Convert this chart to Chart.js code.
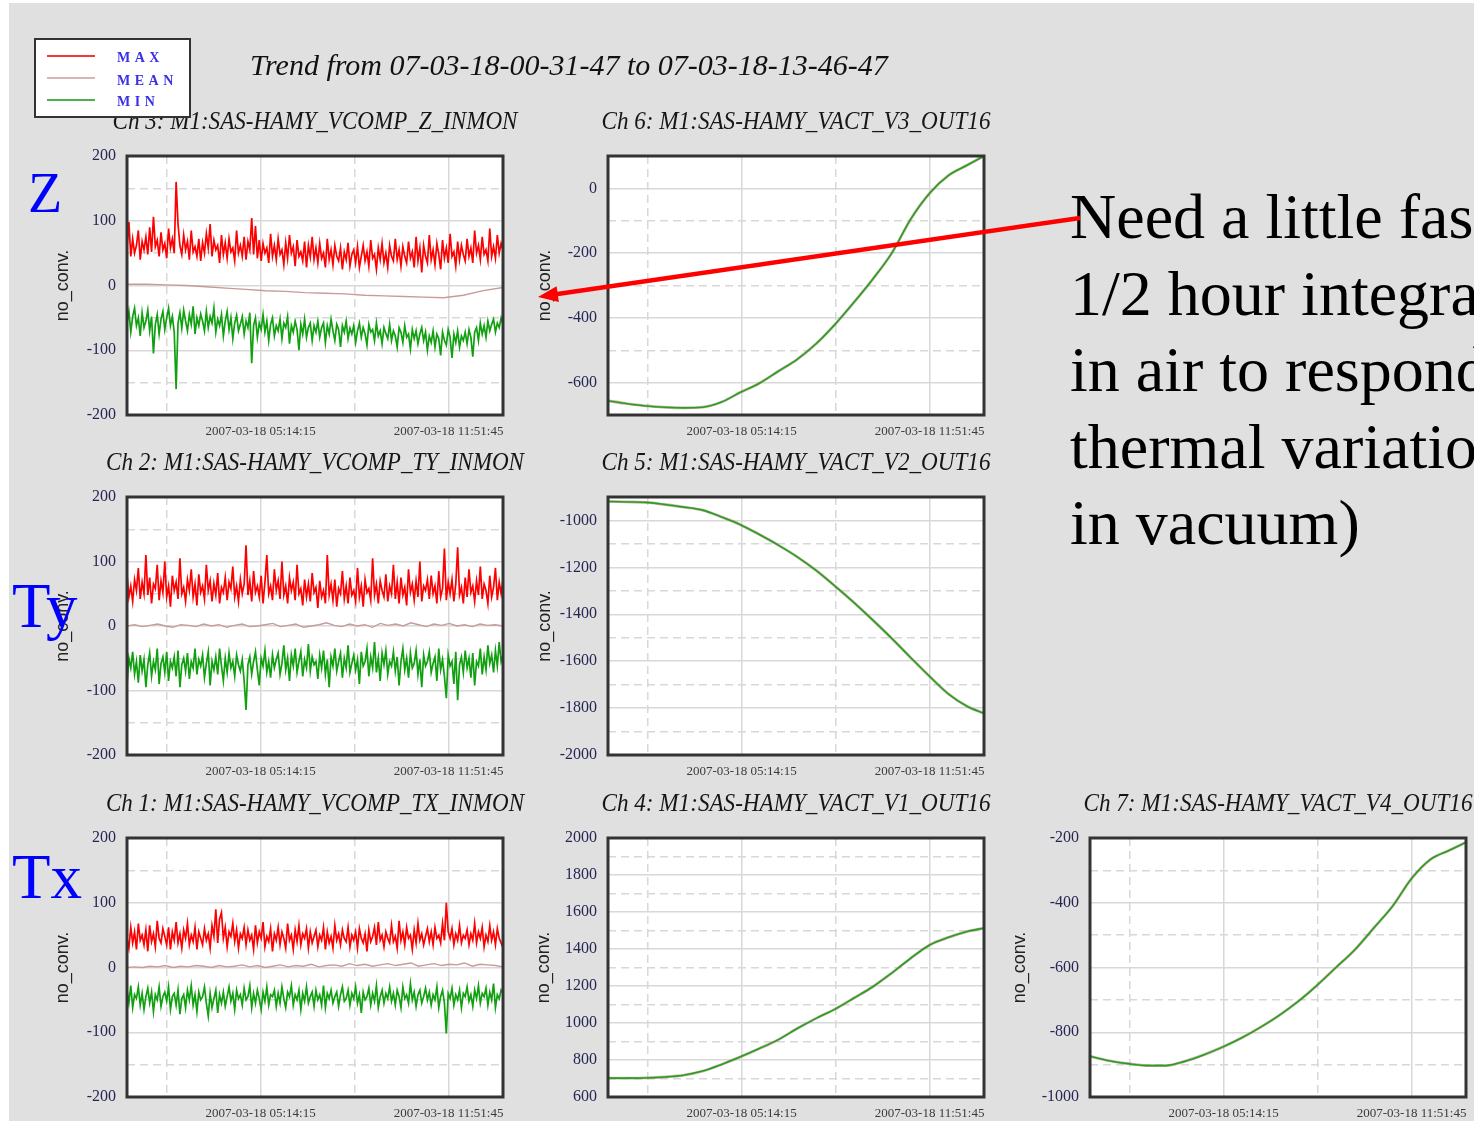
<!DOCTYPE html>
<html>
<head>
<meta charset="utf-8">
<title>Trend from 07-03-18-00-31-47 to 07-03-18-13-46-47</title>
<script src="https://cdn.jsdelivr.net/npm/chart.js@4.4.0/dist/chart.umd.min.js"></script>
<style>
  html, body { margin: 0; padding: 0; background: #fff; overflow: hidden; width: 1474px; height: 1121px; }
  #slide { position: absolute; left: 9px; top: 3px; width: 1465px; height: 1118px; background: #e0e0e0; }
  canvas.panel { position: absolute; }
  #overlay { position: absolute; left: 0; top: 0; z-index: 5; pointer-events: none; }
</style>
</head>
<body>
<div id="slide"></div>
<canvas class="panel" id="ch3"></canvas>
<canvas class="panel" id="ch6"></canvas>
<canvas class="panel" id="ch2"></canvas>
<canvas class="panel" id="ch5"></canvas>
<canvas class="panel" id="ch1"></canvas>
<canvas class="panel" id="ch4"></canvas>
<canvas class="panel" id="ch7"></canvas>

<svg id="overlay" width="1474" height="1121" xmlns="http://www.w3.org/2000/svg">
  <text x="250" y="75" font-family="'Liberation Serif','Times New Roman',serif" font-style="italic" font-size="30" fill="#111">Trend from 07-03-18-00-31-47 to 07-03-18-13-46-47</text>

  <!-- legend box -->
  <rect x="35" y="39" width="155" height="78" fill="#fff" stroke="#333" stroke-width="2"/>
  <line x1="47" y1="56" x2="95" y2="56" stroke="#f03a3a" stroke-width="2"/>
  <line x1="47" y1="78" x2="95" y2="78" stroke="#d8b4b4" stroke-width="2"/>
  <line x1="47" y1="100" x2="95" y2="100" stroke="#4cb04c" stroke-width="2"/>
  <g font-family="'Liberation Serif','Times New Roman',serif" font-size="14" font-weight="bold" fill="#3a30e6" letter-spacing="4.5">
    <text x="117" y="62">MAX</text>
    <text x="117" y="85">MEAN</text>
    <text x="117" y="106">MIN</text>
  </g>

  <!-- axis names on the slide -->
  <g font-family="'Liberation Serif','Times New Roman',serif" fill="#0000ff">
    <text x="28" y="212" font-size="56">Z</text>
    <text x="12" y="627" font-size="63">Ty</text>
    <text x="12" y="898" font-size="63">Tx</text>
  </g>

  <!-- note -->
  <g font-family="'Liberation Serif','Times New Roman',serif" font-size="64" fill="#000">
    <text x="1070" y="238">Need a little faster</text>
    <text x="1070" y="315">1/2 hour integration</text>
    <text x="1070" y="391">in air to respond</text>
    <text x="1070" y="468">thermal variations</text>
    <text x="1070" y="544">in vacuum)</text>
  </g>
  <line x1="1080" y1="218" x2="554" y2="294.5" stroke="#ff0000" stroke-width="4.5"/>
  <polygon points="538,297 556.6,286.2 558.9,302" fill="#ff0000"/>
</svg>

<script>
// time axis: minutes since 07-03-18 00:31:47, run ends at 13:46:47
const spanMinutes = 795;
const xTickMinutes = [83.72, 282.47, 481.22, 679.97];
const xTickLabels = ['', '2007-03-18 05:14:15', '', '2007-03-18 11:51:45'];

// Ch 3 (Z) - max / mean / min
const zMax = [
  58, 98, 45, 72, 50, 62, 85, 40, 68, 55, 75, 48, 90, 52, 106, 60, 70, 45, 82, 55,
  65, 42, 88, 58, 72, 50, 160, 95, 62, 48, 78, 55, 68, 40, 85, 52, 60, 45, 72, 38,
  66, 50, 80, 58, 95, 45, 70, 55, 62, 35, 78, 48, 66, 42, 72, 52, 58, 38, 85, 50,
  62, 45, 75, 40, 68, 55, 104, 48, 92, 42, 70, 38, 65, 50, 58, 35, 80, 45, 62, 40,
  72, 48, 55, 32, 66, 42, 78, 50, 60, 30, 70, 45, 52, 38, 68, 28, 62, 44, 75, 40,
  58, 35, 65, 42, 50, 28, 72, 40, 55, 32, 62, 45, 38, 58, 25, 52, 40, 66, 30, 48,
  55, 35, 60, 28, 45, 62, 38, 52, 30, 70, 42, 48, 25, 58, 40, 65, 35, 50, 28, 62,
  45, 38, 72, 40, 55, 30, 60, 45, 35, 68, 42, 52, 28, 75, 38, 58, 20, 62, 45, 35,
  78, 40, 55, 32, 65, 48, 25, 70, 42, 58, 35, 80, 45, 52, 30, 68, 40, 62, 48, 38,
  72, 45, 58, 35, 85, 50, 62, 40, 75, 48, 55, 38, 88, 45, 60, 42, 78, 50, 65, 55
];
const zMean = [2, 2, 1, 0, -2, -4, -6, -8, -9, -11, -12, -13, -15, -16, -17, -18, -19, -15, -8, -3];
const zMin = [
  -58, -40, -72, -48, -35, -62, -50, -78, -42, -65, -55, -38, -70, -48, -105, -60, -45, -75, -52, -40,
  -68, -50, -35, -62, -48, -72, -160, -58, -42, -66, -38, -55, -70, -45, -60, -32, -75, -50, -62, -44,
  -55, -70, -40, -65, -48, -58, -35, -72, -52, -62, -45, -78, -55, -40, -68, -50, -82, -58, -46, -70,
  -60, -48, -75, -55, -65, -42, -120, -62, -50, -80, -58, -68, -45, -72, -55, -85, -60, -50, -78, -62,
  -70, -52, -82, -58, -65, -48, -90, -62, -72, -55, -68, -100, -60, -75, -52, -80, -65, -58, -85, -62,
  -72, -55, -80, -65, -58, -88, -62, -75, -52, -70, -85, -60, -68, -95, -62, -72, -55, -82, -66, -75,
  -62, -88, -70, -58, -80, -65, -75, -92, -60, -72, -68, -85, -58, -78, -70, -90, -65, -74, -82, -60,
  -85, -70, -78, -95, -65, -72, -88, -62, -80, -75, -98, -68, -82, -70, -90, -75, -65, -85, -72, -100,
  -78, -88, -70, -95, -75, -82, -108, -72, -85, -92, -68, -80, -112, -75, -88, -70, -95, -78, -85, -72,
  -90, -68, -80, -110, -72, -65, -85, -58, -75, -62, -80, -55, -70, -60, -52, -72, -58, -65, -50, -60
];

// Ch 2 (Ty)
const tyMax = [
  80, 45, 62, 38, 72, 55, 90, 42, 68, 50, 110, 48, 75, 35, 65, 58, 95, 40, 70, 52,
  100, 45, 62, 30, 78, 55, 68, 42, 105, 50, 60, 38, 72, 55, 88, 45, 65, 32, 80, 52,
  62, 42, 95, 55, 70, 38, 66, 48, 82, 35, 60, 52, 75, 40, 68, 58, 92, 45, 62, 38,
  72, 50, 65, 125, 48, 70, 38, 85, 52, 62, 45, 78, 35, 68, 110, 50, 62, 40, 88, 55,
  70, 42, 100, 48, 62, 35, 75, 55, 68, 40, 95, 50, 58, 32, 72, 45, 65, 38, 82, 52,
  60, 28, 70, 45, 55, 35, 110, 48, 65, 40, 72, 30, 58, 50, 85, 42, 62, 35, 75, 48,
  55, 38, 90, 45, 62, 30, 72, 52, 58, 40, 105, 48, 65, 35, 70, 55, 45, 80, 38, 62,
  50, 95, 42, 68, 35, 75, 48, 60, 32, 88, 52, 65, 40, 70, 45, 100, 38, 62, 55, 72,
  42, 78, 50, 62, 35, 85, 45, 58, 120, 40, 68, 50, 72, 38, 65, 122, 48, 60, 35, 75,
  45, 88, 52, 62, 38, 70, 48, 92, 42, 65, 55, 35, 78, 45, 60, 90, 40, 68, 50, 72
];
const tyMean = [
  0, 2, -1, 1, 3, 0, -2, 2, 1, -1, 3, 0, 2, -2, 1, 3, -1, 0, 2, 4, -1, 1, 3, -2, 0,
  2, 5, 1, -1, 3, 0, 2, -2, 4, 1, 3, 0, 5, 2, -1, 3, 1, 4, 0, 2, -1, 3, 1, 2, 0
];
const tyMin = [
  -92, -50, -65, -40, -75, -55, -88, -45, -70, -52, -95, -60, -42, -78, -55, -68, -35, -90, -58, -48,
  -72, -40, -85, -55, -65, -48, -78, -38, -95, -60, -50, -70, -42, -82, -55, -65, -35, -75, -52, -62,
  -45, -80, -58, -40, -92, -55, -68, -48, -75, -35, -62, -85, -50, -72, -42, -65, -55, -78, -45, -60,
  -70, -52, -85, -130, -60, -48, -75, -55, -40, -68, -92, -50, -62, -38, -72, -55, -80, -45, -65, -52,
  -42, -75, -58, -30, -68, -50, -85, -45, -62, -35, -72, -55, -40, -78, -52, -65, -28, -70, -48, -60,
  -55, -82, -45, -65, -38, -75, -52, -95, -48, -62, -35, -70, -55, -42, -80, -50, -65, -30, -72, -58,
  -45, -68, -52, -90, -40, -62, -55, -35, -78, -48, -65, -25, -72, -50, -85, -42, -60, -38, -75, -55,
  -62, -40, -70, -48, -92, -55, -35, -68, -50, -80, -42, -65, -58, -38, -75, -52, -95, -45, -62, -55,
  -40, -72, -58, -48, -85, -35, -68, -52, -78, -112, -45, -62, -55, -90, -40, -115, -60, -48, -72, -38,
  -65, -50, -80, -42, -92, -55, -62, -35, -75, -48, -68, -30, -58, -45, -72, -38, -62, -25, -55, -45
];

// Ch 1 (Tx)
const txMax = [
  45, 30, 62, 38, 55, 28, 68, 42, 50, 35, 58, 25, 65, 40, 52, 32, 72, 45, 38, 60,
  48, 35, 62, 28, 55, 42, 70, 38, 52, 30, 58, 45, 68, 35, 50, 40, 62, 28, 55, 45,
  35, 60, 42, 52, 30, 65, 48, 90, 38, 75, 85, 45, 62, 32, 55, 48, 68, 40, 58, 30,
  52, 45, 62, 35, 58, 42, 50, 28, 65, 38, 55, 45, 70, 32, 48, 40, 60, 25, 52, 42,
  62, 35, 55, 45, 30, 68, 42, 50, 28, 58, 40, 65, 35, 52, 45, 60, 30, 55, 38, 48,
  58, 32, 50, 42, 62, 28, 55, 38, 48, 30, 65, 42, 52, 35, 58, 45, 40, 62, 32, 50,
  42, 55, 30, 60, 45, 38, 52, 25, 58, 40, 48, 62, 35, 70, 42, 50, 32, 55, 45, 38,
  65, 40, 48, 30, 72, 42, 55, 35, 62, 45, 50, 28, 58, 38, 68, 42, 52, 35, 48, 60,
  40, 55, 35, 62, 45, 50, 38, 68, 42, 100, 55, 45, 60, 35, 52, 42, 65, 38, 50, 45,
  58, 35, 52, 42, 68, 38, 55, 45, 62, 32, 50, 40, 65, 42, 55, 35, 60, 45, 38, 30
];
const txMean = [
  0, 1, 0, 2, 1, 3, 0, 2, 1, 3, 2, 0, 3, 1, 2, 4, 1, 3, 0, 2, 4, 1, 3, 2, 5,
  1, 3, 4, 2, 6, 3, 5, 2, 4, 6, 3, 5, 7, 2, 4, 6, 3, 5, 4, 7, 2, 5, 4, 3, 1
];
const txMin = [
  -35, -55, -28, -62, -42, -48, -30, -58, -40, -65, -45, -32, -55, -38, -68, -42, -50, -30, -60, -45,
  -38, -52, -30, -65, -45, -40, -58, -35, -72, -48, -42, -62, -35, -50, -28, -58, -42, -68, -38, -50,
  -45, -30, -55, -75, -40, -62, -48, -35, -70, -42, -55, -38, -60, -45, -30, -52, -40, -65, -35, -48,
  -42, -58, -32, -50, -45, -28, -62, -40, -55, -35, -48, -65, -38, -52, -30, -58, -42, -45, -35, -60,
  -40, -55, -30, -48, -62, -38, -45, -28, -58, -42, -50, -35, -65, -40, -52, -30, -55, -45, -38, -60,
  -35, -50, -42, -58, -28, -62, -40, -48, -35, -55, -45, -38, -60, -42, -30, -52, -48, -35, -58, -40,
  -48, -30, -55, -42, -70, -38, -50, -45, -32, -58, -40, -52, -28, -62, -45, -35, -55, -40, -48, -30,
  -52, -40, -58, -35, -45, -62, -30, -48, -42, -55, -25, -50, -38, -60, -42, -35, -55, -45, -32, -50,
  -38, -58, -42, -50, -30, -62, -45, -35, -55, -102, -40, -48, -32, -58, -42, -50, -35, -62, -40, -45,
  -30, -52, -42, -60, -35, -48, -28, -55, -40, -45, -32, -58, -38, -50, -25, -62, -42, -48, -35, -40
];

// slow actuator channels, read every 40 minutes
const curveMinutes = [0, 40, 80, 120, 160, 200, 240, 280, 320, 360, 400, 440, 480, 520, 560, 600, 640, 680, 720, 760, 795];
const v3Out = [-656, -665, -672, -676, -678, -676, -660, -630, -602, -565, -528, -480, -420, -352, -280, -200, -95, -15, 40, 72, 100];
const v2Out = [-919, -921, -923, -932, -943, -956, -985, -1018, -1060, -1105, -1155, -1213, -1280, -1350, -1425, -1503, -1585, -1665, -1740, -1793, -1822];
const v1Out = [702, 702, 703, 708, 718, 740, 776, 817, 862, 910, 970, 1025, 1075, 1135, 1196, 1270, 1350, 1422, 1463, 1495, 1513];
const v4Out = [-874, -888, -897, -903, -903, -890, -870, -846, -818, -785, -748, -705, -655, -600, -545, -478, -410, -325, -266, -238, -213];

const SERIF = "'Liberation Serif', 'Times New Roman', serif";
const SANS = "'Liberation Sans', Arial, sans-serif";
const RED = '#ff0000', MEAN = '#c89a9a', GREEN = '#10a010';
const CURVE = '#24a024', CURVE_UNDER = 'rgba(170, 120, 90, 0.55)';
const TICK_FONT = { family: SERIF, size: 16 };

// white plot area and heavy frame
const plotFrame = {
  id: 'plotFrame',
  beforeDraw(chart) {
    const { ctx, chartArea: a } = chart;
    ctx.save();
    ctx.fillStyle = '#fff';
    ctx.fillRect(a.left, a.top, a.right - a.left, a.bottom - a.top);
    ctx.restore();
  },
  afterDatasetsDraw(chart) {
    const { ctx, chartArea: a } = chart;
    ctx.save();
    ctx.strokeStyle = '#333';
    ctx.lineWidth = 3;
    ctx.strokeRect(a.left, a.top, a.right - a.left, a.bottom - a.top);
    ctx.restore();
  }
};

const measureCtx = document.createElement('canvas').getContext('2d');
function widestTick(y) {
  measureCtx.font = `normal ${TICK_FONT.size}px ${TICK_FONT.family}`;
  let w = 0;
  for (let v = y.min; v <= y.max; v += y.step) {
    if (v % y.major === 0) w = Math.max(w, measureCtx.measureText(String(v)).width);
  }
  return w;
}

function noisy(vals, color, width) {
  return {
    data: vals.map((y, i) => ({ x: i * spanMinutes / (vals.length - 1), y })),
    borderColor: color, borderWidth: width, pointRadius: 0, tension: 0, fill: false
  };
}

function smooth(vals, color, width) {
  return {
    data: curveMinutes.map((x, i) => ({ x, y: vals[i] })),
    borderColor: color, borderWidth: width, pointRadius: 0,
    cubicInterpolationMode: 'monotone', fill: false
  };
}

function drawPanel(id, rect, title, titleWidth, y, datasets) {
  // canvas is symmetric around the plot so the title centres on it;
  // the side padding limits the title width like the original
  const side = 80, padT = 50, padB = 26, labelGap = 11;
  const plotW = rect.r - rect.l;
  const pad = (plotW + 2 * side - titleWidth) / 2;
  const canvas = document.getElementById(id);
  canvas.width = plotW + 2 * side;
  canvas.height = rect.b - rect.t + padT + padB;
  canvas.style.left = (rect.l - side) + 'px';
  canvas.style.top = (rect.t - padT) + 'px';

  // narrow axis box: mirrored labels are not clipped to it, right-aligned labelGap px left of the plot
  const widest = widestTick(y);

  new Chart(canvas, {
    type: 'line',
    data: { datasets },
    options: {
      responsive: false,
      animation: false,
      events: [],
      layout: { padding: { left: pad, right: pad, top: 0, bottom: 0 } },
      plugins: {
        legend: { display: false },
        tooltip: { enabled: false },
        title: {
          display: true, text: title, color: '#161616',
          font: { family: SERIF, size: 26, style: 'italic', weight: 'normal', lineHeight: 28 / 26 },
          padding: { top: 2, bottom: 20 }
        }
      },
      scales: {
        x: {
          type: 'linear', min: 0, max: spanMinutes,
          afterBuildTicks: s => { s.ticks = xTickMinutes.map(v => ({ value: v })); },
          afterFit: s => { s.height = padB; },
          grid: { color: '#d8d8d8', lineWidth: 1.5, drawTicks: false },
          border: { display: false, dash: c => (xTickLabels[c.index] ? [] : [8, 5]) },
          ticks: {
            callback: (v, i) => xTickLabels[i],
            font: { family: SERIF, size: 13 }, color: '#3a3a3a',
            padding: 9, maxRotation: 0, autoSkip: false
          }
        },
        y: {
          min: y.min, max: y.max,
          afterFit: s => { s.width = side - pad; },
          grid: { color: '#d8d8d8', lineWidth: 1.5, drawTicks: false },
          border: { display: false, dash: c => (c.tick && c.tick.value % y.major === 0 ? [] : [8, 5]) },
          ticks: {
            stepSize: y.step, autoSkip: false,
            mirror: true, crossAlign: 'far', padding: -(labelGap + widest),
            callback: v => (v % y.major === 0 ? String(v) : ''),
            font: TICK_FONT, color: '#262655'
          },
          title: {
            display: true, text: 'no_conv.', color: '#222',
            font: { family: SANS, size: 18 },
            // centre of the title sits y.titleX px from the canvas edge
            padding: { top: y.titleX - pad - 10.8, bottom: 0 }
          }
        },
        // empty right-hand box that mirrors the left axis
        yPad: {
          position: 'right', display: true,
          afterFit: s => { s.width = side - pad; },
          grid: { display: false, drawTicks: false },
          border: { display: false },
          ticks: { display: false }
        }
      }
    },
    plugins: [plotFrame]
  });
}

const fastAxis = { min: -200, max: 200, step: 50, major: 100, titleX: 16 };

drawPanel('ch3', { l: 127, t: 156, r: 503, b: 415 }, 'Ch 3: M1:SAS-HAMY_VCOMP_Z_INMON', 405, fastAxis,
  [noisy(zMax, RED, 1.7), noisy(zMean, MEAN, 1.4), noisy(zMin, GREEN, 1.7)]);
drawPanel('ch2', { l: 127, t: 497, r: 503, b: 755 }, 'Ch 2: M1:SAS-HAMY_VCOMP_TY_INMON', 418, fastAxis,
  [noisy(tyMax, RED, 1.7), noisy(tyMean, MEAN, 1.4), noisy(tyMin, GREEN, 1.7)]);
drawPanel('ch1', { l: 127, t: 838, r: 503, b: 1097 }, 'Ch 1: M1:SAS-HAMY_VCOMP_TX_INMON', 418, fastAxis,
  [noisy(txMax, RED, 1.7), noisy(txMean, MEAN, 1.4), noisy(txMin, GREEN, 1.7)]);

drawPanel('ch6', { l: 608, t: 156, r: 984, b: 415 }, 'Ch 6: M1:SAS-HAMY_VACT_V3_OUT16', 389,
  { min: -700, max: 100, step: 100, major: 200, titleX: 17 },
  [smooth(v3Out, CURVE, 1.6), smooth(v3Out, CURVE_UNDER, 2.8)]);
drawPanel('ch5', { l: 608, t: 497, r: 984, b: 755 }, 'Ch 5: M1:SAS-HAMY_VACT_V2_OUT16', 389,
  { min: -2000, max: -900, step: 100, major: 200, titleX: 17 },
  [smooth(v2Out, CURVE, 1.6), smooth(v2Out, CURVE_UNDER, 2.8)]);
drawPanel('ch4', { l: 608, t: 838, r: 984, b: 1097 }, 'Ch 4: M1:SAS-HAMY_VACT_V1_OUT16', 389,
  { min: 600, max: 2000, step: 100, major: 200, titleX: 16 },
  [smooth(v1Out, CURVE, 1.6), smooth(v1Out, CURVE_UNDER, 2.8)]);
drawPanel('ch7', { l: 1090, t: 838, r: 1466, b: 1097 }, 'Ch 7: M1:SAS-HAMY_VACT_V4_OUT16', 389,
  { min: -1000, max: -200, step: 100, major: 200, titleX: 10 },
  [smooth(v4Out, CURVE, 1.6), smooth(v4Out, CURVE_UNDER, 2.8)]);
</script>
</body>
</html>
